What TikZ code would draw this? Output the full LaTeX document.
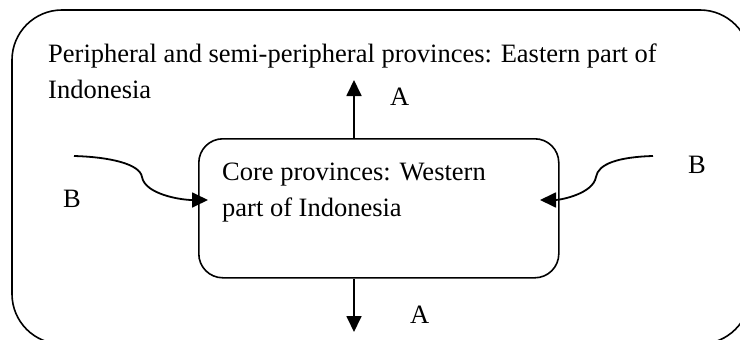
\documentclass[tikz,border=0pt]{standalone}
\usepackage{fontspec}
\setmainfont{Liberation Serif}
\usetikzlibrary{arrows.meta}
\begin{document}
\begin{tikzpicture}[x=1pt,y=-1pt,
  frame/.style={draw,line width=1.6pt,rounded corners=#1},
  lbl/.style={anchor=base west,inner sep=0pt,font=\fontsize{26.5}{36}\selectfont},
  flow/.style={line width=1.8pt,-{Triangle[length=16pt,width=15pt]}}]
\useasboundingbox (0,0) rectangle (740,340);
\begin{scope}
  \clip (0,0) rectangle (740,340);
  % outer region: peripheral provinces
  \draw[frame=50pt] (12,10) rectangle (750,344);
\end{scope}
% inner region: core provinces
\node[frame=24pt,minimum width=360pt,minimum height=139pt,anchor=north west,inner sep=0pt] (core) at (198,138) {};
% texts
\node[lbl] (peri1) at (48,62) {Peripheral and semi-peripheral provinces: Eastern part of};
\node[lbl] (peri2) at (48,98) {Indonesia};
\node[lbl] (core1) at (222,180) {Core provinces: Western};
\node[lbl] (core2) at (222,216) {part of Indonesia};
\node[lbl] (aup) at (390,105) {A};
\node[lbl] (adown) at (410,323) {A};
\node[lbl] (bleft) at (63,207) {B};
\node[lbl] (bright) at (688,173) {B};
% flows
\coordinate (uptip) at (354,80);
\coordinate (downtip) at (354,332);
\coordinate (lstart) at (74,156);
\coordinate (ltip) at (208,200);
\coordinate (rstart) at (653,156);
\coordinate (rtip) at (540,200);
\draw[flow] (core.north -| uptip) -- (uptip);
\draw[flow] (core.south -| downtip) -- (downtip);
\draw[flow] (lstart) .. controls (110,157) and (140,164) .. (142,177)
  .. controls (145,194) and (180,200) .. (ltip);
\draw[flow] (rstart) .. controls (618,157) and (598,164) .. (596,177)
  .. controls (593,194) and (560,200) .. (rtip);
\end{tikzpicture}
\end{document}
